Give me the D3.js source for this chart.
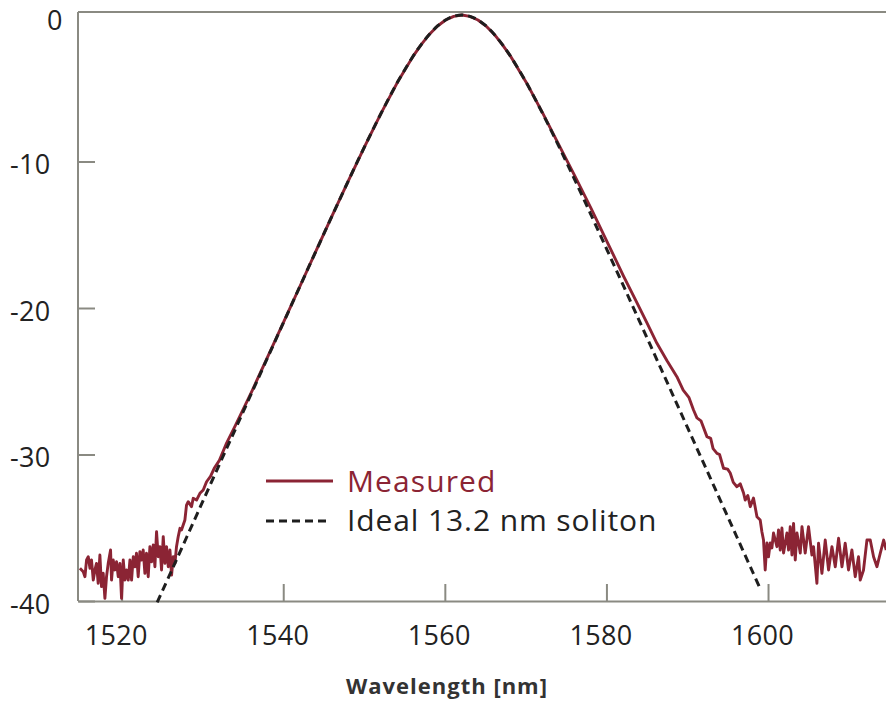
<!DOCTYPE html>
<html><head><meta charset="utf-8">
<script src="https://cdn.jsdelivr.net/npm/d3@7"></script>
<style>body{margin:0;background:#fff}svg{display:block}</style>
</head><body><svg id="c" width="886" height="706"></svg>
<script>
const xTicks = [1520, 1540, 1560, 1580, 1600];
const yTicks = [0, -10, -20, -30, -40];
const seriesNames = ["Measured", "Ideal 13.2 nm soliton"];
const xLabel = "Wavelength [nm]";

// Ideal soliton (dashed)
const idealWl = [1524.4,1526.1,1528.1,1530.1,1532.1,1534.1,1536.1,1538.1,1540.1,1542.1,1544.1,1546.1,1548.1,1550.1,1552.1,1554.1,1556.1,1557.1,1558.1,1559.1,1560.1,1561.1,1562.1,1563.1,1564.1,1565.1,1566.1,1567.1,1568.1,1570.1,1572.1,1574.1,1576.1,1578.1,1580.1,1582.1,1584.1,1586.1,1588.1,1590.1,1592.1,1594.1,1596.1,1598.1,1599.1];
const idealDb = [-40.1,-38.02,-35.58,-33.13,-30.68,-28.24,-25.79,-23.35,-20.91,-18.48,-16.06,-13.65,-11.27,-8.95,-6.72,-4.63,-2.79,-2.0,-1.31,-0.75,-0.34,-0.09,0,-0.09,-0.34,-0.75,-1.31,-2.0,-2.79,-4.63,-6.72,-8.95,-11.27,-13.65,-16.06,-18.48,-20.91,-23.35,-25.79,-28.24,-30.68,-33.13,-35.58,-38.02,-39.25];

// Measured spectrum
const measWl = [1514.84,1515.25,1515.46,1515.66,1515.87,1516.08,1516.27,1516.49,1516.70,1516.89,1517.10,1517.31,1517.51,1517.72,1517.93,1518.13,1518.34,1518.63,1518.75,1518.96,1519.17,1519.37,1519.58,1519.79,1519.99,1520.20,1520.41,1520.61,1520.82,1521.03,1521.23,1521.44,1521.65,1521.84,1522.05,1522.26,1522.46,1522.67,1522.88,1523.08,1523.29,1523.50,1523.70,1523.91,1524.12,1524.32,1524.53,1524.74,1524.94,1525.15,1525.36,1525.56,1525.77,1525.98,1526.18,1526.39,1526.60,1526.79,1527.00,1527.22,1527.41,1527.83,1528.03,1528.24,1528.65,1528.86,1529.27,1529.69,1530.10,1530.51,1531.0,1531.5,1532.1,1533.0,1534.1,1536.1,1538.1,1540.1,1542.1,1544.1,1546.1,1548.1,1550.1,1552.1,1554.1,1556.1,1557.1,1558.1,1559.1,1560.1,1561.1,1562.1,1563.1,1564.1,1565.1,1566.1,1567.1,1568.1,1570.1,1572.1,1574.1,1576.1,1578.1,1580.1,1582.1,1583.6,1585.0,1586.25,1587.5,1588.72,1589.5,1590.2,1590.78,1591.2,1591.7,1592.44,1592.9,1593.2,1593.68,1594.0,1594.49,1595.0,1595.32,1595.7,1596.15,1596.56,1596.97,1597.18,1597.5,1597.80,1598.2,1598.63,1599.03,1599.24,1599.44,1599.65,1599.86,1600.06,1600.27,1600.48,1600.68,1601.10,1601.30,1601.51,1601.72,1601.92,1602.34,1602.54,1602.75,1602.96,1603.16,1603.37,1603.58,1603.99,1604.20,1604.60,1605.01,1605.43,1605.63,1606.05,1606.25,1606.67,1607.08,1607.49,1607.91,1608.32,1608.73,1609.15,1609.55,1609.96,1610.38,1610.79,1611.20,1611.41,1611.82,1612.24,1612.65,1613.06,1613.48,1613.89,1614.31,1614.63];
const measDb = [-37.77,-38.00,-38.34,-37.20,-36.98,-37.77,-37.20,-38.57,-37.88,-37.43,-38.79,-36.86,-39.02,-38.11,-39.82,-38.34,-37.43,-36.52,-38.57,-37.20,-37.88,-37.32,-38.34,-37.43,-39.82,-37.20,-38.57,-37.88,-38.57,-37.20,-38.57,-36.98,-37.66,-36.74,-38.34,-36.63,-37.20,-36.52,-38.11,-36.74,-38.34,-36.29,-37.32,-36.18,-37.66,-35.27,-36.98,-36.29,-37.88,-35.61,-37.43,-36.29,-37.66,-36.52,-38.23,-36.98,-37.43,-36.29,-35.61,-35.04,-35.15,-34.47,-33.45,-33.22,-33.56,-32.99,-33.11,-32.65,-32.42,-31.86,-31.5,-30.9,-30.4,-29.2,-28.0,-25.7,-23.3,-20.9,-18.48,-16.05,-13.65,-11.27,-8.95,-6.72,-4.63,-2.79,-2.0,-1.31,-0.75,-0.34,-0.09,0,-0.09,-0.34,-0.75,-1.31,-2.0,-2.79,-4.62,-6.68,-8.85,-11.0,-13.2,-15.5,-17.8,-19.45,-21.0,-22.41,-23.6,-24.69,-25.6,-26.1,-26.96,-27.5,-27.7,-28.78,-28.9,-29.6,-29.92,-30.0,-30.94,-31.0,-31.26,-31.9,-32.2,-32.0,-32.63,-33.11,-32.8,-33.56,-32.97,-34.25,-34.47,-35.27,-35.84,-37.88,-36.04,-36.98,-36.04,-36.38,-35.36,-36.29,-35.15,-36.52,-35.02,-36.72,-35.36,-36.52,-34.93,-36.86,-34.70,-37.20,-35.36,-36.72,-34.93,-36.72,-34.93,-36.86,-36.29,-38.79,-36.06,-38.11,-35.84,-37.88,-36.29,-37.66,-35.72,-37.66,-36.06,-37.88,-36.52,-38.34,-36.98,-38.57,-37.88,-35.84,-35.84,-36.98,-37.66,-36.74,-35.84,-36.52];

const svg = d3.select("#c");
const x = d3.scaleLinear().domain([1514.6, 1614.6]).range([78, 886]);
const y = d3.scaleLinear().domain([-40, 0]).range([601, 15]);
const axisCol = "#8a8a82";
const red = "#8b2434";
const font = "'Open Sans', Lato, sans-serif";

// top border
svg.append("line").attr("x1", 78).attr("x2", 886).attr("y1", 12).attr("y2", 12)
  .attr("stroke", axisCol).attr("stroke-width", 2);

// x axis
const gx = svg.append("g").attr("transform", "translate(0,601)")
  .call(d3.axisBottom(x).tickValues(xTicks).tickFormat(d3.format("d"))
    .tickSizeInner(-17).tickSizeOuter(0).tickPadding(30));
gx.select(".domain").attr("stroke", axisCol).attr("stroke-width", 2);
gx.selectAll(".tick line").attr("stroke", axisCol).attr("stroke-width", 2);
gx.selectAll(".tick text").attr("font-family", font).attr("font-size", 27).attr("font-weight", 400)
  .attr("fill", "#222").attr("dx", -6).attr("dy", "0.5em").attr("letter-spacing", 0.3);

// y axis
const gy = svg.append("g").attr("transform", "translate(78,0)")
  .call(d3.axisLeft(y).tickValues(yTicks).tickSizeInner(-17).tickSizeOuter(0).tickFormat(d => d));
gy.select(".domain").attr("d", `M0,12V601`).attr("stroke", axisCol).attr("stroke-width", 2);
gy.selectAll(".tick line").attr("stroke", axisCol).attr("stroke-width", 2)
  .attr("display", d => d === 0 ? "none" : null);
gy.selectAll(".tick text").attr("font-family", font).attr("font-size", 27).attr("font-weight", 400)
  .attr("fill", "#222").attr("text-anchor", "start").attr("letter-spacing", 0.3)
  .attr("x", d => d === 0 ? -31 : -68).attr("dy", d => d === 0 ? "0.55em" : "0.45em");

const meas = measWl.map((w, i) => [w, measDb[i]]);
const ideal = idealWl.map((w, i) => [w, idealDb[i]]);

svg.append("path").datum(meas).attr("d", d3.line().x(d => x(d[0])).y(d => y(d[1])))
  .attr("fill", "none").attr("stroke", red).attr("stroke-width", 2.9).attr("stroke-linejoin", "round");
svg.append("path").datum(ideal).attr("d", d3.line().x(d => x(d[0])).y(d => y(d[1])).curve(d3.curveCatmullRom))
  .attr("fill", "none").attr("stroke", "#1e1e1e").attr("stroke-width", 3).attr("stroke-dasharray", "8,5");

// legend
const lg = svg.append("g");
lg.append("line").attr("x1", 266).attr("x2", 333).attr("y1", 481).attr("y2", 481)
  .attr("stroke", red).attr("stroke-width", 2.9);
lg.append("text").attr("x", 347).attr("y", 492).text(seriesNames[0])
  .attr("font-family", font).attr("font-size", 30).attr("font-weight", 400).attr("fill", red)
  .attr("letter-spacing", 1.1);
lg.append("line").attr("x1", 266).attr("x2", 326).attr("y1", 521).attr("y2", 521)
  .attr("stroke", "#1e1e1e").attr("stroke-width", 3).attr("stroke-dasharray", "8,5");
lg.append("text").attr("x", 347).attr("y", 531).text(seriesNames[1])
  .attr("font-family", font).attr("font-size", 30).attr("font-weight", 400).attr("fill", "#222")
  .attr("letter-spacing", 0.9);

svg.append("text").attr("x", 447).attr("y", 694).attr("text-anchor", "middle").text(xLabel)
  .attr("font-family", font).attr("font-size", 22).attr("font-weight", 700).attr("fill", "#333")
  .attr("letter-spacing", 1);
</script></body></html>
